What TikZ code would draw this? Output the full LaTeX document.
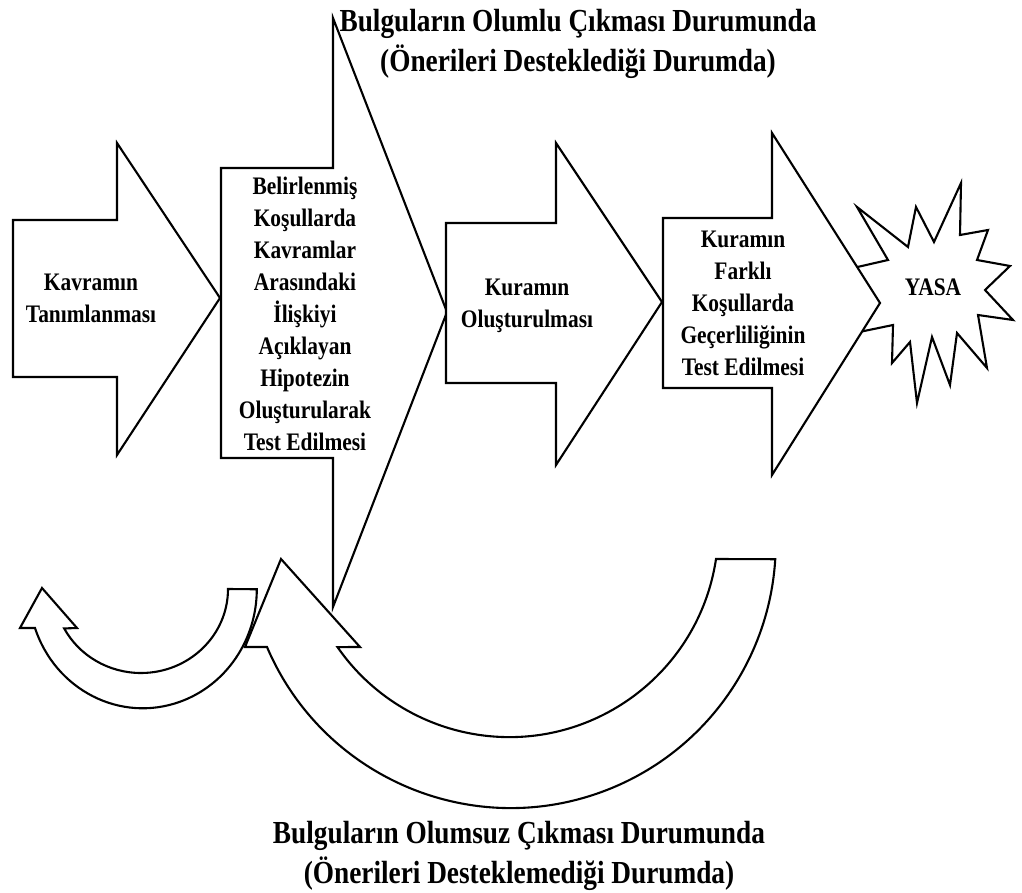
\documentclass[tikz,border=0pt]{standalone}
\usepackage{fontspec}
\setmainfont{Liberation Serif}[FakeStretch=0.85]
\begin{document}
\begin{tikzpicture}[x=1pt,y=-1pt,
  blockarrow/.style={draw=black, line width=2.1pt, fill=white, line join=miter},
  bodytext/.style={font=\fontsize{25.2}{32}\selectfont\bfseries, align=center, inner sep=0pt},
  titletext/.style={font=\fontsize{32.1}{40}\selectfont\bfseries, align=center, inner sep=0pt}]
\useasboundingbox (0,0) rectangle (1022,893);

% stage 1: concept definition
\draw[blockarrow] (13,220) -- (117,220) -- (117,143) -- (220,298) -- (117,455)
  -- (117,377) -- (13,377) -- cycle;
\node[bodytext] (kavram) at (91,299.6) {\strut Kavramın\\ \strut Tanımlanması};

% stage 2: hypothesis testing (large arrow)
\draw[blockarrow] (221,168) -- (333,168) -- (333,18) -- (447,312) -- (333,607)
  -- (333,458) -- (221,458) -- cycle;
\node[bodytext] (hipotez) at (305,316) {\strut Belirlenmiş\\ \strut Koşullarda\\ \strut Kavramlar\\
  \strut Arasındaki\\ \strut İlişkiyi\\ \strut Açıklayan\\ \strut Hipotezin\\
  \strut Oluşturularak\\ \strut Test Edilmesi};

% stage 3: building the theory
\draw[blockarrow] (446,223) -- (556,223) -- (556,143) -- (662,302) -- (556,465)
  -- (556,383) -- (446,383) -- cycle;
\node[bodytext] (kuram) at (527,305) {\strut Kuramın\\ \strut Oluşturulması};

% law: explosion star, partly covered by stage 4
\draw[blockarrow] (857,207) -- (908,247) -- (916,207) -- (934,242) -- (961,183)
  -- (960,235) -- (988,230) -- (977,260) -- (1010,266) -- (985,290) -- (1013,320)
  -- (978,315) -- (987,368) -- (957,333) -- (950,385) -- (932,337) -- (917,403)
  -- (910,342) -- (892,363) -- (893,325) -- (840,336) -- (862,303) -- (840,271)
  -- (888,260) -- cycle;
\node[bodytext] (yasa) at (933,288.6) {\strut YASA};

% stage 4: testing the theory under other conditions
\draw[blockarrow] (663,218) -- (772,218) -- (772,133) -- (880,303) -- (772,475)
  -- (772,388) -- (663,388) -- cycle;
\node[bodytext] (farkli) at (743,304.6) {\strut Kuramın\\ \strut Farklı\\ \strut Koşullarda\\
  \strut Geçerliliğinin\\ \strut Test Edilmesi};

% feedback: small curved arrow back to stage 1
\draw[blockarrow] (228,589) arc[start angle=0, end angle=152, x radius=87, y radius=84]
  -- (77,628) -- (42,588) -- (20,628) -- (35,628)
  arc[start angle=161, end angle=0, x radius=114, y radius=119] -- cycle;

% feedback: large curved arrow back to stage 2
\draw[blockarrow] (716,559) arc[start angle=8.5, end angle=145.3, radius=209]
  -- (360,647) -- (281,559) -- (245,647) -- (267,647)
  arc[start angle=156.9, end angle=3.5, radius=265] -- cycle;

% captions
\node[titletext] (olumlu) at (578,44) {\strut Bulguların Olumlu Çıkması Durumunda\\
  \strut (Önerileri Desteklediği Durumda)};
\node[titletext] (olumsuz) at (519,855) {\strut Bulguların Olumsuz Çıkması Durumunda\\
  \strut (Önerileri Desteklemediği Durumda)};
\end{tikzpicture}
\end{document}
